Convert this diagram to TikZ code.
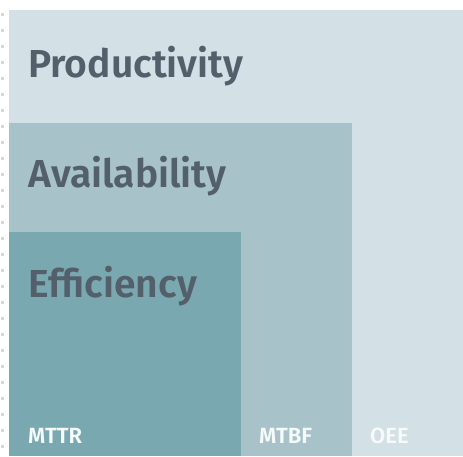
\documentclass[tikz,border=0pt]{standalone}
\usepackage{fontspec}
\setmainfont{Fira Sans}[BoldFont={Fira Sans SemiBold}]
\usetikzlibrary{positioning}
\definecolor{LevelOne}{HTML}{D3E0E5}
\definecolor{LevelTwo}{HTML}{A7C3C9}
\definecolor{LevelThree}{HTML}{7AA8B0}
\definecolor{SlateText}{HTML}{535F6B}
\definecolor{DotGray}{HTML}{D8D8D8}
\tikzset{
  % Nested level box
  lvl/.style={draw=none, fill=#1},
  % Big level title
  ttl/.style={anchor=base west, inner sep=0pt, text=SlateText,
    font=\fontsize{39}{45}\selectfont\bfseries},
  % Metric tag at the bottom
  tag/.style={anchor=base west, inner sep=0pt, text=white!94!LevelThree,
    font=\fontsize{22}{26}\selectfont\bfseries}
}
\begin{document}
\begin{tikzpicture}[x=1pt,y=-1pt]
  \useasboundingbox (0,0) rectangle (463,456);

  % ---- dotted guide on the left ----
  \foreach \yy in {13,29,...,450}
    \fill[DotGray] (1,\yy) rectangle (4,\yy+3);

  % ---- nested boxes ----
  \fill[lvl=LevelOne]   (9,10)  rectangle (463,456);
  \fill[lvl=LevelTwo]   (9,123) rectangle (352,456);
  \fill[lvl=LevelThree] (9,232) rectangle (241,456);

  % ---- titles ----
  \node[ttl] (prod)  at (28,77)  {Productivity};
  \node[ttl] (avail) at (28,187) {Availability};
  \node[ttl] (eff)   at (28,297) {Efficiency};

  % ---- metric tags ----
  \node[tag] (mttr) at (28,443)  {MTTR};
  \node[tag] (mtbf) at (259,443) {MTBF};
  \node[tag] (oee)  at (370,443) {OEE};
\end{tikzpicture}
\end{document}
